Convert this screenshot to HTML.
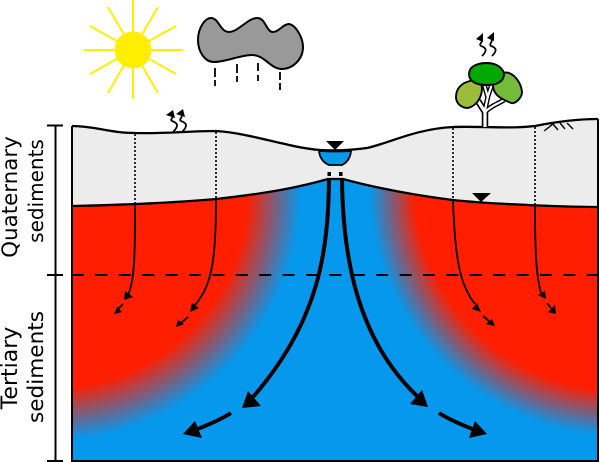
<!DOCTYPE html>
<html><head><meta charset="utf-8"><style>html,body{margin:0;padding:0;background:#fff;width:600px;height:462px;overflow:hidden}svg{display:block}text{font-family:"DejaVu Sans",sans-serif;fill:#000}</style></head><body>
<svg width="600" height="462" viewBox="0 0 600 462" xmlns="http://www.w3.org/2000/svg">
<defs>
<radialGradient id="l" gradientUnits="userSpaceOnUse" cx="50" cy="190" r="260">
<stop offset="0.76" stop-color="#ff1e00"/><stop offset="0.965" stop-color="#0698ec"/>
</radialGradient>
<radialGradient id="r" gradientUnits="userSpaceOnUse" cx="620" cy="185" r="260">
<stop offset="0.79" stop-color="#ff1e00"/><stop offset="0.965" stop-color="#0698ec"/>
</radialGradient>
</defs>
<!-- ground -->
<rect x="72" y="170" width="263" height="291" fill="url(#l)"/>
<rect x="335" y="170" width="263" height="291" fill="url(#r)"/>
<path d="M72 126 C95 126 110 133 135 133 C160 134 190 131 216 131 C250 133 290 148 320 150 C335 151 352 150 367 148 C390 143 415 129 453 127 C480 126 510 129 535 126 C555 122 575 119 598 119 L598 207 C580 207 500 205 453 200 C420 196 375 188 343 179 L328 179 C300 187 270 193 216 199 C170 203 120 205 72 206 Z" fill="#ececec"/>
<!-- outlines -->
<path d="M72 126 C95 126 110 133 135 133 C160 134 190 131 216 131 C250 133 290 148 320 150 C335 151 352 150 367 148 C390 143 415 129 453 127 C480 126 510 129 535 126 C555 122 575 119 598 119" fill="none" stroke="#000" stroke-width="2.3"/>
<path d="M72 206 C120 205 170 203 216 199 C270 193 300 187 328 179 L343 179 C375 188 420 196 453 200 C500 205 580 207 598 207" fill="none" stroke="#000" stroke-width="2.3"/>
<path d="M72 126 V461 H598 V119" fill="none" stroke="#000" stroke-width="2"/>
<!-- bracket -->
<path d="M55.5 125.5 V461 M47 125.5 H63 M47 275 H63 M47 461 H63" fill="none" stroke="#000" stroke-width="2"/>
<line x1="72" y1="275" x2="598" y2="275" stroke="#000" stroke-width="2" stroke-dasharray="12 11.4"/>
<!-- labels -->
<text transform="translate(17,197) rotate(-90)" font-size="21.4" text-anchor="middle">Quaternary</text>
<text transform="translate(43,191) rotate(-90)" font-size="20" text-anchor="middle">sediments</text>
<text transform="translate(17,368) rotate(-90)" font-size="22" text-anchor="middle">Tertiary</text>
<text transform="translate(43,367) rotate(-90)" font-size="21.6" text-anchor="middle">sediments</text>
<!-- sun -->
<g stroke="#ffee00" stroke-width="2">
<line x1="133" y1="0" x2="133" y2="99"/><line x1="84" y1="50" x2="183" y2="50"/>
<line x1="108" y1="7" x2="158" y2="93"/><line x1="158" y1="7" x2="108" y2="93"/>
<line x1="90" y1="26" x2="176" y2="74"/><line x1="176" y1="26" x2="90" y2="74"/>
</g>
<circle cx="133" cy="50" r="18.5" fill="#ffee00"/>
<!-- cloud -->
<path d="M198 40 C198 28 205 18 211 18 C219 18 220 32 229 32 C238 32 248 18 257 18 C266 18 266 32 273 32 C279 32 283 24 289 24 C296 25 303 38 303 47 C303 60 292 69 282 69 C270 69 265 55 252 55 C240 55 226 62 214 62 C205 62 198 52 198 40 Z" fill="#999" stroke="#000" stroke-width="2"/>
<g stroke="#000" stroke-width="1.8">
<path d="M215 68V77M215 80V86M237 64V73M237 76V82M258 63V71M258 75V81M280 72V80M280 83V90"/>
</g>
<!-- pond -->
<path d="M319 151 Q320 161 329 165 H342 Q350 161 351 151 Q335 152 319 151 Z" fill="#0898e8" stroke="#000" stroke-width="1.8"/>
<path d="M326 141 H344 L335 150 Z" fill="#000"/>
<rect x="327.5" y="172" width="3.5" height="4" fill="#000"/><rect x="339" y="172" width="3.5" height="4" fill="#000"/>
<path d="M472 193 H491 L481 202 Z" fill="#000"/>
<!-- dotted -->
<g stroke="#000" stroke-width="1.6" stroke-dasharray="2 2" fill="none">
<path d="M135 134V204M216 132V199M453 128V200M535 127V205"/>
</g>
<!-- thin arrows -->
<g fill="none" stroke="#000" stroke-width="1.8">
<path d="M135 204 C135 250 135 280 128 295"/>
<path d="M123 304 L118 309"/>
<path d="M216 199 C216 260 212 285 195 305"/>
<path d="M188 317 L181 323"/>
<path d="M453 200 C455 260 460 285 475 304"/>
<path d="M483 316 L489 321"/>
<path d="M535 205 C535 250 536 275 541 293"/>
<path d="M547 303 L551 308"/>
</g>
<g fill="#000">
<path d="M124 300 L125 291 L133 297 Z"/><path d="M114 314 L117 307 L122 312 Z"/>
<path d="M190 312 L192 303 L199 308 Z"/><path d="M176 327 L178 320 L184 324 Z"/>
<path d="M481 312 L477 303 L472 309 Z"/><path d="M495 326 L492 319 L486 324 Z"/>
<path d="M546 299 L545 291 L538 295 Z"/><path d="M556 314 L555 305 L548 312 Z"/>
</g>
<!-- thick arrows -->
<g fill="none" stroke="#000" stroke-width="4">
<path d="M329 180 C328 250 320 320 253 397"/>
<path d="M231 413 C220 420 208 425 195 430"/>
<path d="M342 180 C343 260 358 340 418 397"/>
<path d="M439 413 C450 420 462 425 475 430"/>
</g>
<g fill="#000">
<path d="M242 408 L248 391 L261 406 Z"/><path d="M183 434 L195 421 L202 438 Z"/>
<path d="M428 407 L422 390 L410 404 Z"/><path d="M487 434 L475 421 L469 438 Z"/>
</g>
<!-- tree -->
<path d="M485 127 V112 L478 101" fill="none" stroke="#000" stroke-width="6.5"/>
<path d="M485 112 C492 105 498 104 504 100 M485 110 L488 96 L492 84 M488 98 L484 84" fill="none" stroke="#000" stroke-width="5"/>
<path d="M485 127 V112 L478 101" fill="none" stroke="#fff" stroke-width="3.2"/>
<path d="M485 112 C492 105 498 104 504 100 M485 110 L488 96 L492 84 M488 98 L484 84" fill="none" stroke="#fff" stroke-width="2.2"/>
<path d="M482 88 C482 82 476 79 470 81 C461 83 456 89 456 97 C456 104 462 108 468 108 C476 106 482 98 482 88 Z" fill="#9cbc3c" stroke="#000" stroke-width="1.9"/>
<path d="M493 85 C493 76 502 71 509 73 C517 76 522 86 522 93 C521 99 515 104 511 103 C505 100 493 97 493 85 Z" fill="#74bc3c" stroke="#000" stroke-width="1.9"/>
<path d="M469 74 C469 66 478 63 487 63 C496 63 504 68 504 75 C503 82 497 85 487 85 C477 85 469 82 469 74 Z" fill="#00a800" stroke="#000" stroke-width="1.9"/>
<!-- evaporation -->
<g fill="none" stroke="#000" stroke-width="1.8">
<path d="M482 56 C487 51 487 48 481 46 C478 44 484 42 481 39"/>
<path d="M492 56 C497 51 497 48 491 46 C488 44 494 42 491 38"/>
<path d="M173 132 C179 126 178 123 172 121 C169 119 175 118 172 114"/>
<path d="M182 132 C188 126 187 123 181 121 C178 119 184 118 181 113"/>
</g>
<g fill="#000">
<path d="M483 33 L476 39 L483 42 Z"/><path d="M494 32 L487 38 L494 41 Z"/>
<path d="M173 110 L166 115 L175 118 Z"/><path d="M183 109 L176 114 L185 117 Z"/>
</g>
<!-- grass -->
<path d="M544 131 L553 124 L558 130 M560 123 L565 129 M567 123 L573 129" fill="none" stroke="#000" stroke-width="1.4"/>
</svg>
</body></html>
